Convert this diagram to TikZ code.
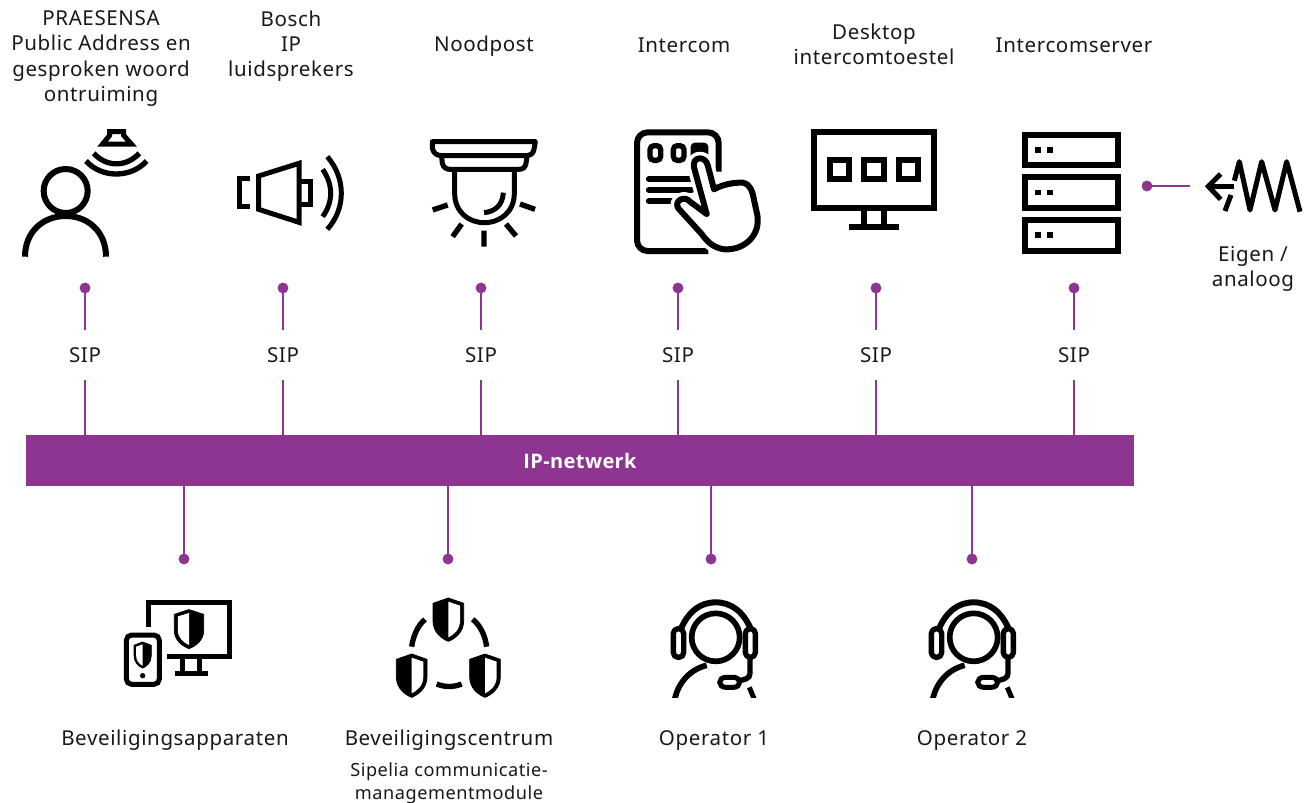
\documentclass[tikz,border=0pt]{standalone}
\usepackage{fontspec}
\setmainfont[LetterSpace=3]{Noto Sans}
\newfontfamily\barfont[LetterSpace=2]{Open Sans}
\definecolor{bpurple}{HTML}{8E3592}
\tikzset{
 lbl/.style={align=center,inner sep=0pt,outer sep=0pt,font=\fontsize{15.4}{19}\selectfont,text=black!90},
 smalllbl/.style={align=center,inner sep=0pt,outer sep=0pt,font=\fontsize{13.6}{17.3}\selectfont,text=black!90},
 siplbl/.style={lbl,minimum height=37.5pt,minimum width=30pt},
 conn/.style={draw=bpurple,line width=2pt},
 pdot/.style={circle,fill=bpurple,minimum size=8.2pt,inner sep=0pt,outer sep=0pt},
 zoomed/.style={x=0.25pt,y=-0.25pt},
 ic/.style={line width=#1*0.25pt,draw=black,line cap=butt,line join=miter},
 ic/.default=18,
}
% shield: #1 cx, #2 top, #3 xscale (sign = side of the white half), #4 yscale
\newcommand{\shieldicon}[4]{%
 \begin{scope}[shift={(#1,#2)},xscale=#3,yscale=#4]
  \filldraw[black,line width=0.6pt,line join=round] (0,2) -- (46,18) -- (46,70) .. controls (46,105) and (20,124) .. (0,132) .. controls (-20,124) and (-46,105) .. (-46,70) -- (-46,18) -- cycle;
  \fill[white] (0,13) -- (35,25) -- (35,70) .. controls (35,98) and (15,113) .. (0,120) -- cycle;
 \end{scope}}
% headset, origin at top-left of zoom window
\newcommand{\headset}[1]{%
 \begin{scope}[shift={(#1,590)},zoomed]
  \draw[ic=17] (197,142) circle[radius=72];
  \draw[ic=18] (92,118) .. controls (115,65) and (150,37) .. (197,37) .. controls (244,37) and (280,65) .. (303,118);
  \draw[ic=16,rounded corners=3.5pt,line join=round] (70,116) rectangle (101,202);
  \draw[ic=16,rounded corners=3.5pt,line join=round] (286,116) rectangle (316,202);
  \begin{scope}
   \clip (0,100) rectangle (400,322);
   \draw[ic=17] (72,340) .. controls (80,280) and (120,238) .. (170,226);
   \draw[ic=15] (298,292) -- (318,340);
  \end{scope}
  \draw[ic=16] (300,200) -- (300,250) .. controls (300,265) and (285,270) .. (262,272);
  \draw[ic=15] (228,262) -- (250,262) .. controls (275,262) and (275,292) .. (250,292) -- (228,292) .. controls (203,292) and (203,262) .. (228,262) -- cycle;
 \end{scope}}
\begin{document}
\begin{tikzpicture}[x=0.75pt,y=-0.75pt]
\useasboundingbox (0,0) rectangle (1311,803);
\fill[white] (0,0) rectangle (1311,803);
% network bar
\node[fill=bpurple,minimum width=831pt,minimum height=38.25pt,inner sep=0pt,outer sep=0pt,text=white,font=\barfont\fontsize{15}{18}\selectfont\bfseries] (bar) at (580,460.5) {IP-netwerk};
% top labels
\node[lbl] (l1) at (101,58.5) {PRAESENSA\\Public Address en\\gesproken woord\\ontruiming};
\node[lbl] (l2) at (291,46) {Bosch\\IP\\luidsprekers};
\node[lbl] (l3) at (484,46) {Noodpost};
\node[lbl] (l4) at (684,45) {Intercom};
\node[lbl] (l5) at (874,44.5) {Desktop\\intercomtoestel};
\node[lbl] (l6) at (1074,45) {Intercomserver};
\node[lbl] (l7) at (1253,269) {Eigen /\\analoog};
% SIP labels
\foreach \n/\x in {1/85,2/283,3/481,4/678,5/876,6/1074}{
 \node[siplbl] (s\n) at (\x,355) {SIP};
 \node[pdot] (d\n) at (\x,288) {};
 \draw[conn] (d\n) -- (s\n);
 \draw[conn] (s\n) -- (s\n |- bar.north);
}
% lower connectors
\foreach \n/\x in {7/184,8/448,9/711,10/972}{
 \node[pdot] (d\n) at (\x,559) {};
 \draw[conn] (d\n |- bar.south) -- (d\n);
}
% analog connector
\node[pdot] (d11) at (1147,186) {};
\coordinate (e11) at (1190,186);
\draw[conn] (d11) -- (e11);
% bottom labels
\node[lbl] (b1) at (175,740) {Beveiligingsapparaten};
\node[lbl] (b2) at (449,740) {Beveiligingscentrum};
\node[smalllbl] (b3) at (449,783) {Sipelia communicatie-\\managementmodule};
\node[lbl] (b4) at (714,741) {Operator 1};
\node[lbl] (b5) at (972,741) {Operator 2};
% person + speaker
\begin{scope}[shift={(0,110)},zoomed]
 \draw[ic] (197,243) circle[radius=66];
 \draw[ic] (75,440) .. controls (75,365) and (130,318) .. (197,318) .. controls (264,318) and (318,365) .. (318,440);
 \draw[ic=15] (329,65) -- (371,65) -- (371,76) -- (394,102) -- (308,102) -- (329,76) -- cycle;
 \draw[ic=16] (281,130) .. controls (320,172) and (378,172) .. (418,130);
 \draw[ic=16] (258,153) .. controls (305,205) and (393,205) .. (440,153);
 \draw[ic=15] (750,205) -- (718,205) -- (718,290) -- (750,290);
 \draw[ic=15] (776,198) -- (897,160) -- (897,337) -- (776,298) -- cycle;
 \draw[ic=15] (897,213) -- (932,213) -- (932,284) -- (897,284);
 \draw[ic=15] (968,178) .. controls (1000,225) and (1000,275) .. (968,320);
 \draw[ic=15] (982,140) .. controls (1038,205) and (1038,295) .. (982,358);
\end{scope}
% lamp + intercom
\begin{scope}[shift={(410,110)},zoomed]
 \draw[ic=15,line join=round] (67,95) -- (376,95) -- (372,118) .. controls (370,132) and (360,137) .. (345,137) -- (100,137) .. controls (80,137) and (72,132) .. (67,115) -- cycle;
 \draw[ic=15] (95,140) -- (97,160) .. controls (100,173) and (110,178) .. (120,178) -- (325,178) .. controls (340,178) and (345,173) .. (348,160) -- (351,140);
 \draw[ic=15] (134,178) -- (134,250) .. controls (134,305) and (175,338) .. (223,338) .. controls (271,338) and (313,305) .. (313,250) -- (313,178);
 \draw[ic=15] (280,248) .. controls (278,285) and (255,305) .. (222,308);
 \draw[ic=16] (68,300) -- (113,285) (375,298) -- (330,282) (128,380) -- (155,342) (318,378) -- (288,342) (222,362) -- (222,410);
 % tablet
 \draw[ic=18,rounded corners=8pt] (926,185) -- (926,67) -- (681,67) -- (681,423) -- (895,423);
 \draw[ic=16,rounded corners=3pt] (720,107) rectangle (752,151);
 \draw[ic=16,rounded corners=3pt] (790,107) rectangle (822,151);
 \fill[black,rounded corners=3pt] (842,98) rectangle (895,150);
 \draw[ic=17,line cap=round] (716,207) -- (840,207) (716,240) -- (845,240) (716,273) -- (790,273);
 % hand: white halo, then outline
 \def\handpath{(890,312) -- (852,172) .. controls (845,140) and (885,135) .. (893,165) -- (912,238) .. controls (940,222) and (975,217) .. (1000,218) .. controls (1020,222) and (1028,245) .. (1032,270) -- (1042,315) .. controls (1052,375) and (1005,420) .. (945,418) .. controls (915,415) and (895,400) .. (875,372) -- (805,295) .. controls (790,272) and (825,255) .. (840,275) -- cycle}
 \draw[white,line width=10pt,line join=round] \handpath;
 \draw[ic=18,fill=white,line join=round] \handpath;
\end{scope}
% monitor, server, analogue
\begin{scope}[shift={(800,110)},zoomed]
 \draw[ic] (42,67) rectangle (403,294);
 \draw[ic] (89,151) rectangle (146,208);
 \draw[ic] (193,151) rectangle (251,208);
 \draw[ic] (297,151) rectangle (354,208);
 \draw[ic] (192,303) -- (192,345) (252,303) -- (252,345);
 \draw[ic] (146,351) -- (298,351);
 \foreach \ya/\yb in {74/166,202/294,331/423}{
  \draw[ic] (676,\ya) rectangle (953,\yb);
 }
 \foreach \ya in {111,239,367}{
  \fill[black] (705,\ya) rectangle ++(17,17);
  \fill[black] (741,\ya) rectangle ++(17,17);
 }
 \draw[ic=15] (1303,229) -- (1228,229);
 \draw[ic=15] (1262,192) -- (1225,229) -- (1262,268);
 \draw[ic=15,line join=round] (1275,303) -- (1293,255);
 \draw[ic=15,line join=round] (1303,212) -- (1318,155) -- (1350,300) -- (1385,155) -- (1425,300) -- (1460,155) -- (1500,305);
\end{scope}
% security icons
\begin{scope}[shift={(110,590)},zoomed]
 \draw[ic=15] (114,110) -- (114,37) -- (358,37) -- (358,200) -- (172,200);
 \draw[ic=15] (218,200) -- (218,245) (268,200) -- (268,245);
 \draw[ic=15] (195,249) -- (293,249);
 \shieldicon{237}{57}{-0.96}{0.9}
 \draw[ic=15,rounded corners=4pt] (49,135) rectangle (148,283);
 \shieldicon{98}{155}{-0.56}{0.6}
 \fill[black] (98,257) circle[radius=8];
 \shieldicon{1015}{22}{1}{1}
 \shieldicon{905}{190}{1}{1}
 \shieldicon{1125}{190}{1}{1}
 \draw[ic=16] (905,170) .. controls (910,135) and (925,105) .. (945,88);
 \draw[ic=16] (1130,170) .. controls (1125,135) and (1110,105) .. (1088,88);
 \draw[ic=16] (980,282) .. controls (1005,292) and (1030,292) .. (1055,282);
\end{scope}
\headset{650}
\headset{908}
\end{tikzpicture}
\end{document}
